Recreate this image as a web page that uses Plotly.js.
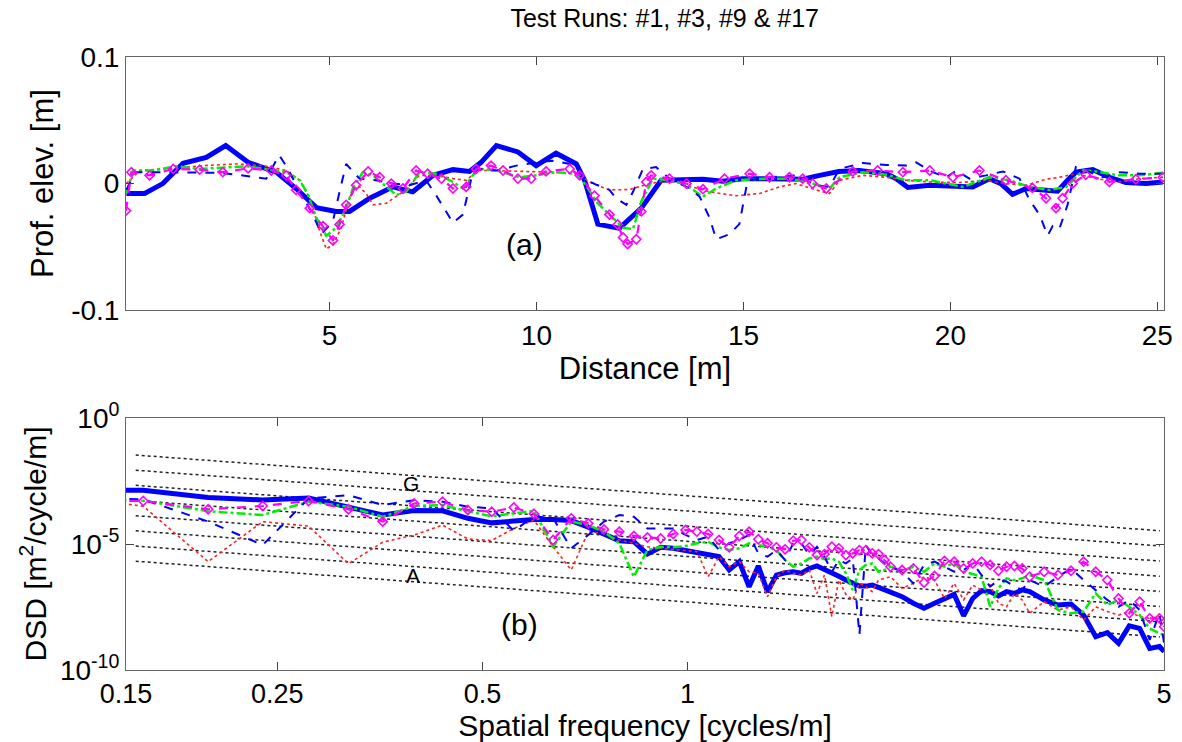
<!DOCTYPE html>
<html>
<head>
<meta charset="utf-8">
<script src="https://cdn.plot.ly/plotly-3.0.1.min.js"></script>
<style>html,body{margin:0;padding:0;background:#fff;}#chart{width:1182px;height:742px;}</style>
</head>
<body>
<div id="chart"></div>
<script>
// ---------- (a) profile elevation vs distance ----------
const distRun1 = [0.09,0.53,0.97,1.46,2.02,2.49,3.03,3.71,4.19,4.68,5.16,5.48,5.97,6.53,6.69,7.01,7.5,7.98,8.38,8.66,9.03,9.55,9.99,10.47,10.96,11.16,11.48,12.0,12.53,13.01,13.53,14.02,14.5,14.98,15.63,16.43,16.84,17.3,17.8,18.45,18.69,18.97,19.5,20.06,20.54,20.94,21.22,21.5,21.83,22.31,22.59,22.83,23.03,23.44,23.84,24.24,24.73,25.13];
const elevRun1 = [-0.0078,-0.0078,0,0.016,0.0207,0.030,0.0168,0.009,-0.0039,-0.019,-0.022,-0.022,-0.0116,-0.0026,-0.004,-0.0065,0.0065,0.011,0.0096,0.0168,0.030,0.025,0.0142,0.024,0.0155,0.0026,-0.032,-0.0354,-0.0194,0.0026,0.003,0.0034,0.0018,0.0039,0.0039,0.0034,0.0065,0.0096,0.0103,0.0078,0.0039,-0.003,-0.0013,-0.0018,-0.0026,0.0039,0,-0.0085,-0.0039,-0.0052,-0.006,0.0026,0.009,0.011,0.005,0.0008,0,0.0013];

const distRun3 = [0.09,0.3,0.73,1.54,2.34,2.75,3.15,3.47,3.78,3.95,4.28,4.6,4.8,5.08,5.24,5.4,5.72,6.12,6.53,6.93,7.33,7.57,7.98,8.22,8.46,8.62,9.03,9.51,10.0,10.39,10.8,11.12,11.44,11.76,11.92,12.17,12.33,12.57,12.89,13.21,13.7,13.94,14.18,14.34,14.66,14.9,15.1,15.63,16.27,16.75,17.08,17.32,17.88,18.45,18.93,19.17,19.57,19.9,20.14,20.46,20.86,21.27,21.67,21.91,22.15,22.35,22.47,22.63,22.83,23.03,23.27,23.68,24.08,24.57,25.13];
const elevRun3 = [-0.005,0.009,0.009,0.009,0.0085,0.007,0.005,0.0039,0.0225,0.014,-0.0065,-0.0245,-0.04,-0.0297,-0.0065,0.0155,0.0039,0.0026,0,-0.0013,0.0026,-0.009,-0.031,-0.0245,0.009,0.0116,0.0103,0.0142,0.0168,0.018,0.0155,0.0039,-0.0008,-0.005,-0.0116,-0.0168,-0.0065,0.0116,0.013,0.0039,-0.0039,-0.0103,-0.027,-0.044,-0.040,-0.032,0.0026,0.005,0.0065,-0.0013,-0.0026,0.0116,0.0163,0.0147,0.0142,0.0168,0.009,0.005,0.0103,0.0039,0.0065,0.0096,0.0039,-0.0129,-0.0245,-0.041,-0.0336,-0.036,-0.0168,0.013,0.0103,0.005,0.009,0.0078,0.0078];

const distRun9 = [0.09,0.41,1.14,1.94,2.75,3.39,3.95,4.28,4.52,4.76,4.92,5.08,5.28,5.48,5.68,5.88,6.05,6.37,6.77,7.17,7.57,7.98,8.3,8.58,8.87,9.59,10.39,10.96,11.36,11.76,12.25,12.73,13.21,13.62,14.18,14.82,15.39,15.87,16.27,16.75,17.08,17.32,17.88,18.45,18.93,19.5,20.22,20.86,21.34,21.83,22.31,22.63,23.03,23.52,24.08,24.57,25.13];
const elevRun9 = [0.0,0.0103,0.012,0.0142,0.0155,0.0142,0.0103,0.0026,-0.0116,-0.0375,-0.0517,-0.048,-0.0349,-0.0116,-0.0013,-0.0078,-0.0168,-0.0155,-0.0065,0.0065,0.0065,0.0039,0.0026,0.0103,0.0103,0.0096,0.009,0.0078,0,-0.005,-0.0047,0,0.0026,-0.0013,-0.0065,-0.0096,-0.0078,-0.0026,0,-0.005,-0.0078,0.0026,0.0065,0.005,0.0026,0.0013,0.0008,0.0026,0,-0.0013,0.0034,0.005,0.0078,0.0039,0.0013,0.0039,0.005];

const distRun17 = [0.09,0.25,0.73,1.3,1.86,2.5,2.99,3.55,3.95,4.28,4.48,4.68,4.92,5.16,5.4,5.56,5.8,6.05,6.29,6.61,6.85,7.17,7.57,7.98,8.22,8.46,8.62,9.03,9.59,10.0,10.47,10.96,11.2,11.44,11.76,12.09,12.33,12.53,12.81,13.29,13.62,14.02,14.34,14.82,15.47,16.11,16.67,17.08,17.32,17.88,18.45,18.93,19.5,20.3,20.94,21.43,21.91,22.39,22.8,23.2,23.52,24.08,24.57,25.13];
const elevRun17 = [-0.0078,0.0103,0.0103,0.0137,0.0116,0.013,0.0137,0.0111,0.009,0.0026,-0.009,-0.0271,-0.0413,-0.0349,-0.0194,-0.0039,0.009,0.0065,0,-0.009,-0.0065,0.009,0.0078,0.0013,-0.0039,0.0065,0.0116,0.0103,0.005,0.0065,0.009,0.0078,-0.0013,-0.0142,-0.0245,-0.0349,-0.036,-0.0142,0.0039,0.0026,-0.0013,-0.0103,-0.0039,0.0026,0.0039,0.0039,0,-0.0039,0.005,0.009,0.007,0.0026,0.0026,-0.0026,0.005,0.0026,-0.0026,-0.005,-0.0026,0.0103,0.0096,0.0065,0.0065,0.0085];

const distMean = [0.08,0.21,0.65,1.22,1.86,2.42,3.03,3.59,3.95,4.19,4.52,4.84,5.08,5.24,5.4,5.64,5.93,6.21,6.49,6.77,7.09,7.37,7.7,7.98,8.3,8.54,8.9,9.19,9.55,9.87,10.23,10.8,11.04,11.4,11.76,11.96,12.09,12.2,12.41,12.53,12.65,12.77,13.21,13.62,14.02,14.54,15.15,15.63,16.11,16.43,16.67,17.0,17.64,18.24,18.85,19.5,20.06,20.7,21.34,21.98,22.31,22.55,22.71,22.95,23.27,23.84,24.48,25.13];
const elevMean = [-0.0214,0.009,0.0065,0.0116,0.011,0.009,0.012,0.0103,0.0065,-0.005,-0.0194,-0.0336,-0.045,-0.0323,-0.0168,-0.0013,0.0096,0.005,0,-0.0039,0.0103,0.0078,0.0039,-0.0039,-0.0026,0.0116,0.0142,0.0103,0.0039,0.0039,0.0096,0.0116,0.0065,-0.0096,-0.0245,-0.0323,-0.0426,-0.0478,-0.044,-0.022,0.0013,0.0065,0.0039,0,-0.0044,0.0039,0.0078,0.005,0.005,0.0039,0,-0.0039,0.0096,0.0103,0.009,0.0103,0.005,0.0103,0.0026,-0.0034,-0.0116,-0.0194,-0.0116,0,0.007,0.0013,0.0034,0.005];

// ---------- (b) displacement spectral density (log10 values) ----------
const spatialFreq = [0.119,0.159,0.198,0.238,0.278,0.318,0.357,0.397,0.437,0.476,0.516,0.556,0.595,0.635,0.675,0.715,0.754,0.794,0.834,0.873,0.913,0.953,0.993,1.032,1.072,1.112,1.151,1.191,1.231,1.270,1.310,1.350,1.390,1.429,1.469,1.509,1.548,1.588,1.628,1.667,1.707,1.747,1.787,1.826,1.866,1.906,1.945,1.985,2.064,2.144,2.223,2.303,2.382,2.461,2.541,2.620,2.700,2.779,2.858,2.938,3.017,3.097,3.176,3.335,3.494,3.652,3.811,3.970,4.129,4.288,4.446,4.605,4.764,4.923,5.002];
const logDsdRun1 = [-2.83,-2.87,-3.15,-3.25,-3.17,-3.53,-3.85,-3.67,-3.68,-3.98,
 -4.16,-4.09,-4.03,-4.03,-4.07,-4.33,-4.60,-4.87,-4.91,-5.40,
 -5.13,-5.17,-5.26,-5.34,-5.44,-5.50,-6.03,-5.70,-6.70,-5.87,
 -6.90,-6.23,-6.14,-6.10,-6.16,-5.97,-5.87,-6.00,-6.13,-6.28,
 -6.43,-6.53,-6.67,-6.67,-6.63,-6.72,-6.82,-6.89,
 -7.09,-7.35,-7.55,-7.35,-7.16,-7.00,-7.85,-7.16,-6.85,-6.89,-7.06,-6.89,-6.96,-6.82,-6.89,
 -7.22,-7.42,-7.38,-7.82,-8.68,-8.52,-8.94,-8.25,-8.35,-9.14,-9.07,-9.27];
const logDsdRun3 = [-3.15,-3.23,-4.11,-5.04,-3.19,-3.06,-3.45,-3.26,-3.32,-3.52,
 -3.58,-4.48,-3.90,-3.98,-5.17,-4.64,-4.11,-3.85,-3.92,-4.38,
 -4.38,-4.38,-4.64,-4.84,-4.71,-5.24,-4.97,-4.84,-4.64,-5.37,
 -5.50,-5.24,-5.63,-4.97,-4.97,-5.44,-5.11,-5.50,-6.10,-5.63,
 -5.77,-5.57,-8.61,-5.04,-5.44,-5.57,-5.77,-5.90,
 -6.10,-6.56,-5.83,-5.70,-5.90,-6.10,-6.03,-5.77,-6.23,-6.69,-6.43,-6.49,-6.69,-6.82,-6.43,
 -6.69,-6.30,-5.97,-6.43,-6.82,-7.22,-7.49,-7.22,-7.62,-8.81,-7.75,-8.94];
const logDsdRun9 = [-3.05,-3.50,-5.70,-4.11,-4.29,-5.78,-4.93,-4.64,-4.25,-4.80,
 -4.86,-4.38,-4.05,-5.11,-6.03,-4.51,-4.58,-4.84,-4.97,-5.11,
 -5.17,-5.21,-5.26,-5.30,-6.30,-5.50,-5.90,-5.70,-6.10,-6.16,
 -7.09,-6.30,-6.03,-6.16,-6.23,-6.03,-6.96,-6.23,-7.88,-6.43,
 -7.00,-7.22,-6.56,-6.69,-6.89,-6.43,-6.36,-6.30,
 -6.76,-6.56,-6.30,-6.43,-7.16,-6.56,-7.22,-6.63,-6.83,-6.63,-7.35,-7.49,-6.96,-7.22,-7.75,
 -7.29,-7.62,-7.49,-8.02,-7.49,-7.68,-7.82,-7.68,-7.88,-7.95,-7.88,-8.02];
const logDsdRun17 = [-3.26,-3.28,-3.70,-3.85,-3.32,-3.52,-3.92,-3.49,-3.45,-3.70,
 -3.90,-3.78,-3.68,-5.10,-4.11,-4.25,-4.51,-4.97,-6.30,-5.24,
 -5.11,-5.13,-5.08,-4.97,-4.91,-5.13,-5.24,-5.17,-4.97,-5.04,
 -5.11,-5.24,-5.63,-5.90,-5.77,-5.57,-5.50,-5.60,-5.57,-5.70,
 -6.16,-6.83,-6.03,-5.83,-5.77,-6.10,-6.03,-5.90,
 -6.06,-5.90,-6.10,-5.77,-5.90,-5.77,-6.10,-6.19,-6.30,-7.49,-6.76,-6.36,-6.43,-6.36,-6.23,
 -6.43,-7.62,-7.75,-7.68,-6.96,-7.42,-7.22,-7.49,-7.82,-8.35,-8.55,-8.61];
const logDsdMean = [-3.28,-3.29,-3.62,-3.49,-3.29,-3.62,-4.11,-3.39,-3.32,-3.65,
 -3.72,-3.55,-3.80,-4.84,-3.98,-4.18,-4.42,-4.51,-4.68,-4.74,
 -4.78,-4.60,-4.44,-4.51,-4.60,-4.84,-5.13,-4.68,-4.51,-4.81,
 -4.97,-5.13,-5.21,-4.87,-4.84,-5.13,-5.44,-5.40,-5.11,-5.17,
 -5.44,-5.37,-5.24,-5.24,-5.37,-5.40,-5.63,-5.90,
 -6.03,-5.97,-6.53,-6.27,-5.67,-5.70,-5.97,-5.77,-5.70,-5.83,-6.06,-5.90,-5.87,-5.97,-6.30,
 -6.10,-6.23,-6.06,-5.70,-6.10,-6.43,-7.16,-7.75,-7.29,-7.95,-7.95,-8.28];

// road class reference lines: DSD at n0 = 0.1 cycles/m, slope -2
const isoRefFreq = 0.1;
const isoClassDsd = [5e-6, 2e-5, 8e-5, 3.2e-4, 1.28e-3, 5.12e-3, 2.048e-2, 8.192e-2];
const isoFreqSpan = [0.155, 4.93];

const xTicksA = [5, 10, 15, 20, 25];
const yTicksA = [-0.1, 0, 0.1];
const xTicksB = [0.15, 0.25, 0.5, 1, 5];
const xTickTextB = ['0.15', '0.25', '0.5', '1', '5'];
const yTicksB = [1e-10, 1e-5, 1];
const yTickTextB = ['10<sup>-10</sup>', '10<sup>-5</sup>', '10<sup>0</sup>'];

const FONT = 'Arial, "Liberation Sans", sans-serif';
const pow10 = a => a.map(v => Math.pow(10, v));

const styles = {
  run1:  {color: '#0000ff', width: 5, dash: 'solid'},
  run3:  {color: '#0000ff', width: 2, dash: 'dash'},
  run9:  {color: '#ff2020', width: 1.6, dash: 'dot'},
  run17: {color: '#00ee00', width: 2.5, dash: 'dashdot'},
  mean:  {color: '#ff00ff', width: 2.2, dash: 'dash'}
};

const traces = [];
isoClassDsd.forEach(g => {
  traces.push({
    x: isoFreqSpan, y: isoFreqSpan.map(f => g * Math.pow(f / isoRefFreq, -2)),
    xaxis: 'x2', yaxis: 'y2', mode: 'lines', hoverinfo: 'skip',
    line: {color: '#222', width: 1.5, dash: 'dot'}
  });
});

function addSeries(xa, ya, key, axes, marker) {
  const t = {x: xa, y: ya, xaxis: axes[0], yaxis: axes[1], mode: marker ? 'lines+markers' : 'lines',
    line: {color: styles[key].color, width: styles[key].width, dash: styles[key].dash}};
  if (marker) t.marker = {symbol: 'diamond-open', size: 7, color: styles[key].color, line: {width: 1.6, color: styles[key].color}};
  traces.push(t);
}
addSeries(distRun1, elevRun1, 'run1', ['x', 'y']);
addSeries(distRun9, elevRun9, 'run9', ['x', 'y']);
addSeries(distRun17, elevRun17, 'run17', ['x', 'y']);
addSeries(distRun3, elevRun3, 'run3', ['x', 'y']);
addSeries(distMean, elevMean, 'mean', ['x', 'y'], true);

addSeries(spatialFreq, pow10(logDsdRun1), 'run1', ['x2', 'y2']);
addSeries(spatialFreq, pow10(logDsdRun9), 'run9', ['x2', 'y2']);
addSeries(spatialFreq, pow10(logDsdRun17), 'run17', ['x2', 'y2']);
addSeries(spatialFreq, pow10(logDsdRun3), 'run3', ['x2', 'y2']);
addSeries(spatialFreq, pow10(logDsdMean), 'mean', ['x2', 'y2'], true);

const axBase = {
  showline: true, linecolor: '#666', linewidth: 1, mirror: 'ticks', ticks: 'inside', ticklen: 8,
  tickcolor: '#444', tickwidth: 1, showgrid: false, zeroline: false,
  tickfont: {family: FONT, size: 28, color: '#000'}
};

const layout = {
  width: 1182, height: 742,
  margin: {l: 126, r: 18, t: 57, b: 72},
  paper_bgcolor: '#fff', plot_bgcolor: '#fff',
  showlegend: false,
  font: {family: FONT, color: '#000'},
  title: {text: 'Test Runs: #1, #3, #9 &amp; #17', font: {family: FONT, size: 25, color: '#000'},
          x: 0.519, xanchor: 'center', y: 0.975, yanchor: 'middle', xref: 'paper'},
  xaxis: Object.assign({}, axBase, {
    domain: [0, 1], anchor: 'y', range: [0.08, 25.16], tickvals: xTicksA,
    title: {text: 'Distance [m]', font: {family: FONT, size: 31}, standoff: 0}
  }),
  yaxis: Object.assign({}, axBase, {
    domain: [0.587, 1], anchor: 'x', range: [-0.1, 0.1], tickvals: yTicksA, ticktext: ['-0.1', '0', '0.1'],
    title: {text: 'Prof. elev. [m]', font: {family: FONT, size: 31}, standoff: 8}
  }),
  xaxis2: Object.assign({}, axBase, {
    domain: [0, 1], anchor: 'y2', type: 'log', range: [Math.log10(0.15), Math.log10(5)],
    tickvals: xTicksB, ticktext: xTickTextB, tickfont: {family: FONT, size: 27, color: '#000'},
    title: {text: 'Spatial frequency [cycles/m]', font: {family: FONT, size: 30}, standoff: 3}
  }),
  yaxis2: Object.assign({}, axBase, {
    domain: [0, 0.411], anchor: 'x2', type: 'log', range: [-10, 0],
    tickvals: yTicksB, ticktext: yTickTextB,
    title: {text: 'DSD [m<sup>2</sup>/cycle/m]', font: {family: FONT, size: 30}, standoff: 4}
  }),
  annotations: [
    {text: '(a)', x: 9.7, y: -0.048, xref: 'x', yref: 'y', showarrow: false, font: {family: FONT, size: 30}},
    {text: '(b)', x: Math.log10(0.566), y: -8.21, xref: 'x2', yref: 'y2', showarrow: false, font: {family: FONT, size: 30}},
    {text: 'G', x: Math.log10(0.393), y: -2.58, xref: 'x2', yref: 'y2', showarrow: false, font: {family: FONT, size: 21}},
    {text: 'A', x: Math.log10(0.396), y: -6.23, xref: 'x2', yref: 'y2', showarrow: false, font: {family: FONT, size: 21}}
  ]
};

Plotly.newPlot('chart', traces, layout, {displayModeBar: false, staticPlot: true});
</script>
</body>
</html>
